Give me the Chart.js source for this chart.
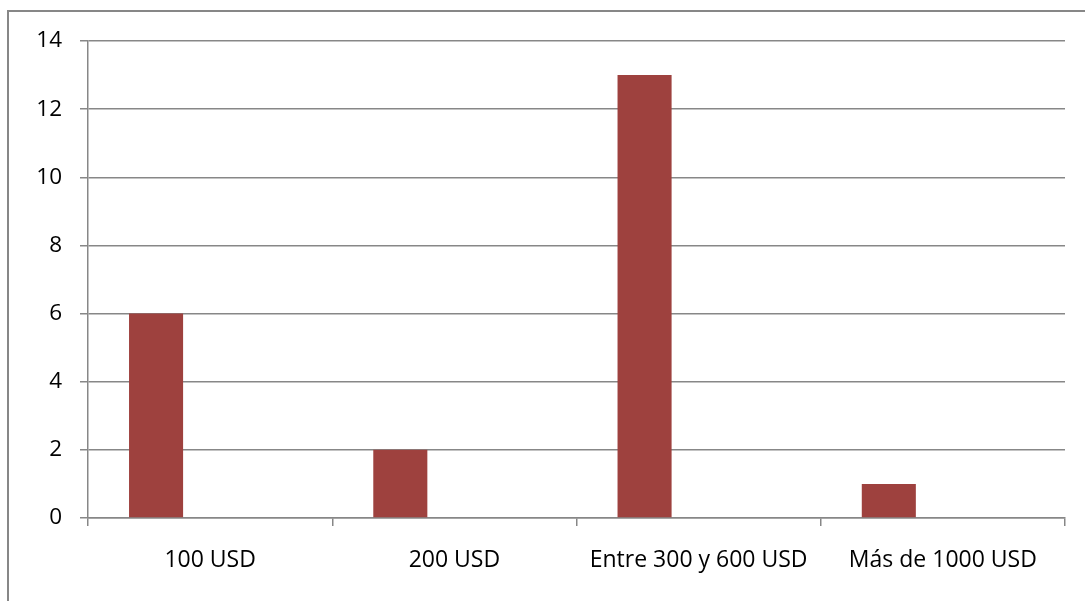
<!DOCTYPE html>
<html>
<head>
<meta charset="utf-8">
<script src="https://cdn.jsdelivr.net/npm/chart.js@4"></script>
<style>
  html, body { margin: 0; padding: 0; background: #fff; overflow: hidden; }
  #frame { position: absolute; left: 7px; top: 10px; width: 1110px; height: 630px;
           border: 2px solid #878787; box-sizing: border-box; }
  #wrap { position: absolute; left: 0; top: 0; width: 1085px; height: 601px; }
</style>
</head>
<body>
<div id="frame"></div>
<div id="wrap"><canvas id="chart" width="1085" height="601"></canvas></div>
<script>
// Price ranges and number of answers per range
const categories = ['100 USD', '200 USD', 'Entre 300 y 600 USD', 'Más de 1000 USD'];
const serie1 = [6, 2, 13, 1];
const serie2 = [null, null, null, null];
const serie3 = [null, null, null, null];
const yTicks = [0, 2, 4, 6, 8, 10, 12, 14];

const axisGray = '#878787';
const barColor = '#9E413E';
const xFont = { family: '"Open Sans", "Noto Sans", sans-serif', size: 23 };
const yFont = { family: '"Open Sans", "Noto Sans", sans-serif', size: 22.5 };

new Chart(document.getElementById('chart'), {
  type: 'bar',
  data: {
    labels: categories,
    datasets: [
      { label: 'Serie 1', data: serie1, backgroundColor: barColor },
      { label: 'Serie 2', data: serie2, backgroundColor: barColor },
      { label: 'Serie 3', data: serie3, backgroundColor: barColor }
    ]
  },
  options: {
    responsive: false,
    animation: false,
    datasets: { bar: { categoryPercentage: 0.664, barPercentage: 1 } },
    layout: { padding: { top: 41, right: 20, left: 0, bottom: 0 } },
    plugins: { legend: { display: false }, tooltip: { enabled: false } },
    scales: {
      x: {
        offset: true,
        grid: { offset: true, drawOnChartArea: false, drawTicks: true, tickLength: 8, color: axisGray, lineWidth: 1.5 },
        border: { display: true, color: axisGray, width: 1.5 },
        ticks: { color: '#000', font: xFont, padding: 21, maxRotation: 0 },
        afterFit: (s) => { s.height = 83; }
      },
      y: {
        min: 0, max: 14,
        afterBuildTicks: (s) => { s.ticks = yTicks.map(v => ({ value: v })); },
        grid: { color: axisGray, lineWidth: 1.5, drawTicks: true, tickLength: 8 },
        border: { display: true, color: axisGray, width: 1.5 },
        ticks: { color: '#000', font: yFont, padding: 18 },
        afterFit: (s) => { s.width = 88; }
      }
    }
  }
});
</script>
</body>
</html>
